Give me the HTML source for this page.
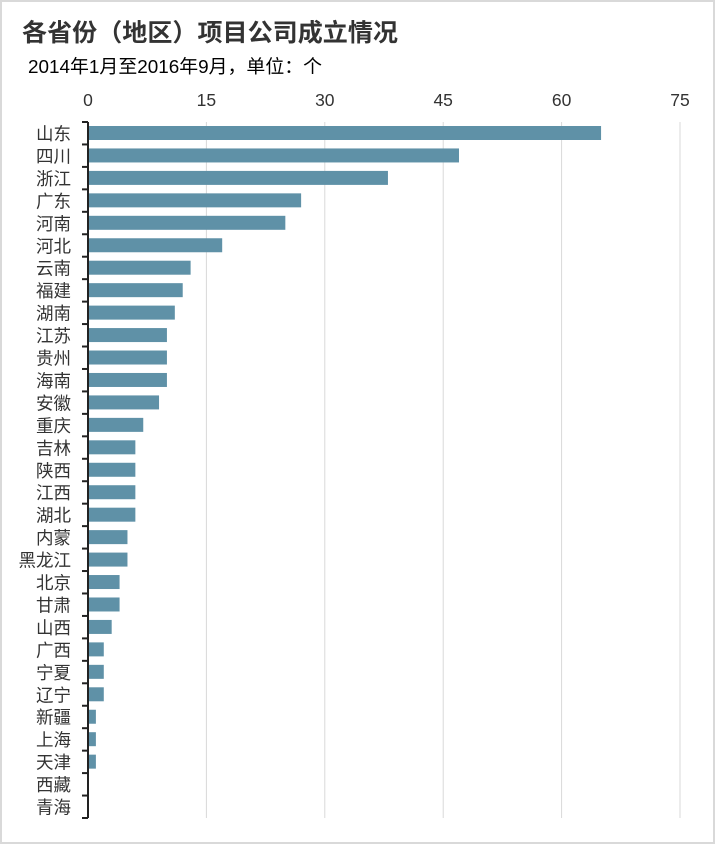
<!DOCTYPE html>
<html><head><meta charset="utf-8"><style>
html,body{margin:0;padding:0;background:#fff}
svg{display:block}
text{font-family:"Liberation Sans","Noto Sans CJK SC",sans-serif}
</style></head><body>
<svg width="715" height="844" viewBox="0 0 715 844" xmlns="http://www.w3.org/2000/svg">
<rect x="1" y="1" width="713" height="842" fill="#fff" stroke="#d9d9d9" stroke-width="2"/>
<text x="22" y="41" font-size="24.5" font-weight="bold" fill="#333" textLength="376" lengthAdjust="spacingAndGlyphs">各省份（地区）项目公司成立情况</text>
<text x="28" y="73" font-size="18.5" fill="#000" textLength="294" lengthAdjust="spacingAndGlyphs">2014年1月至2016年9月，单位：个</text>
<g stroke="#d9d9d9" stroke-width="1">
<line x1="206.4" y1="122" x2="206.4" y2="818"/>
<line x1="324.8" y1="122" x2="324.8" y2="818"/>
<line x1="443.2" y1="122" x2="443.2" y2="818"/>
<line x1="561.6" y1="122" x2="561.6" y2="818"/>
<line x1="680" y1="122" x2="680" y2="818"/>
</g>
<g font-size="17.5" fill="#333" text-anchor="middle">
<text x="88" y="106">0</text><text x="206.4" y="106">15</text><text x="324.8" y="106">30</text><text x="443.2" y="106">45</text><text x="561.6" y="106">60</text><text x="680" y="106">75</text>
</g>
<g id="bars" fill="#5f91a7"></g>
<g id="labels" font-size="17.5" fill="#333" text-anchor="end"></g>
<g id="ticks" stroke="#222" stroke-width="2"></g>
<line x1="88" y1="122" x2="88" y2="818" stroke="#222" stroke-width="2"/>
</svg>
<script>
var d=[["山东",65],["四川",47],["浙江",38],["广东",27],["河南",25],["河北",17],["云南",13],["福建",12],["湖南",11],["江苏",10],["贵州",10],["海南",10],["安徽",9],["重庆",7],["吉林",6],["陕西",6],["江西",6],["湖北",6],["内蒙",5],["黑龙江",5],["北京",4],["甘肃",4],["山西",3],["广西",2],["宁夏",2],["辽宁",2],["新疆",1],["上海",1],["天津",1],["西藏",0],["青海",0]];
var ns="http://www.w3.org/2000/svg",step=696/31,b=document.getElementById("bars"),l=document.getElementById("labels"),t=document.getElementById("ticks");
function mk(n,a,p){var e=document.createElementNS(ns,n);for(var k in a)e.setAttribute(k,a[k]);p.appendChild(e);return e;}
d.forEach(function(r,i){var y0=122+i*step;
if(r[1]>0)mk("rect",{x:88,y:y0+4,width:r[1]*592/75,height:14},b);
var tx=mk("text",{x:71,y:y0+18},l);tx.textContent=r[0];
mk("line",{x1:82,y1:y0,x2:88,y2:y0},t);});
mk("line",{x1:82,y1:818,x2:88,y2:818},t);
</script>
</body></html>
